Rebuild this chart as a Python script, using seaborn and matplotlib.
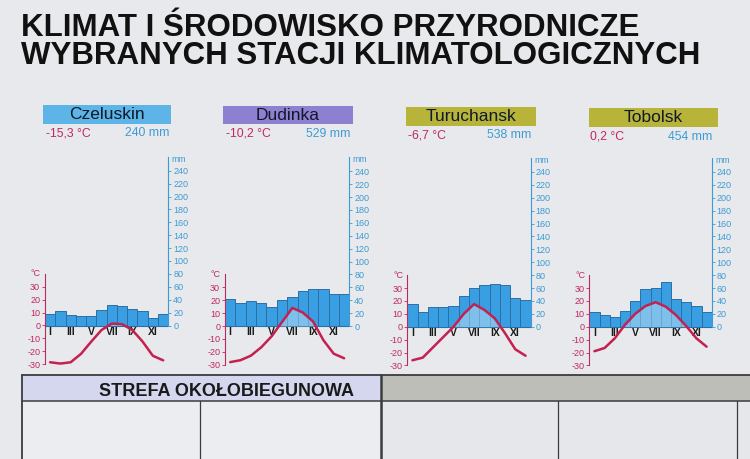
import numpy as np
import pandas as pd
import matplotlib
matplotlib.use("Agg")
import matplotlib.pyplot as plt
import seaborn as sns
from matplotlib.patches import Rectangle
from matplotlib.lines import Line2D

# ---------------- data ----------------
months = ["I", "II", "III", "IV", "V", "VI", "VII", "VIII", "IX", "X", "XI", "XII"]
stations = ["Czeluskin", "Dudinka", "Turuchansk", "Tobolsk"]
mean_temp_labels = ["-15,3 °C", "-10,2 °C", "-6,7 °C", "0,2 °C"]
total_prec_labels = ["240 mm", "529 mm", "538 mm", "454 mm"]

czeluskin_temp = [-28.5, -29.5, -28.5, -22, -12.5, -3.5, 1.5, 1, -3.5, -12.5, -23.5, -27]
czeluskin_prec = [18, 23, 17, 15, 15, 24, 32, 31, 26, 22, 12, 18]
dudinka_temp = [-28, -26.5, -23, -16.5, -8, 3, 14, 10.5, 3.5, -11, -21.5, -25]
dudinka_prec = [42, 36, 38, 35, 30, 40, 45, 55, 58, 57, 49, 50]
turuchansk_temp = [-26, -24, -16, -8, 0, 10, 17.5, 13, 6.5, -5, -17.5, -22.5]
turuchansk_prec = [35, 23, 30, 30, 32, 48, 60, 65, 66, 64, 45, 42]
tobolsk_temp = [-19, -16.5, -9, 1.5, 10, 16, 19, 15.5, 9, 0.5, -9, -15.5]
tobolsk_prec = [23, 18, 15, 25, 40, 59, 60, 70, 43, 39, 32, 23]

temps = [czeluskin_temp, dudinka_temp, turuchansk_temp, tobolsk_temp]
precs = [czeluskin_prec, dudinka_prec, turuchansk_prec, tobolsk_prec]

prec_ticks = list(range(0, 241, 20))
temp_ticks = [-30, -20, -10, 0, 10, 20, 30]
month_label_idx = [0, 2, 4, 6, 8, 10]

title_line1 = "KLIMAT I ŚRODOWISKO PRZYRODNICZE"
title_line2 = "WYBRANYCH STACJI KLIMATOLOGICZNYCH"
zone_label = "STREFA OKOŁOBIEGUNOWA"

# ---------------- style ----------------
sns.set_theme(style="white")
plt.rcParams["font.family"] = ["Liberation Sans", "DejaVu Sans"]
plt.rcParams["axes.unicode_minus"] = False

W, H = 750, 459
BG = "#E8E9EC"
BAR = "#3A9FE2"
EDGE = "#2A6FA6"
RED = "#C42050"
TRED = "#C0285C"
BLUE = "#3D9BD3"
BOX_COLORS = ["#5DB4E6", "#8E80D0", "#B8B43A", "#B8B43A"]

# pixel layout of each diagram: left axis x, right axis x, y of zero line
layout = [
    (45.0, 168.3, 325.5),
    (225.0, 349.3, 326.0),
    (407.3, 530.7, 326.7),
    (589.3, 711.7, 326.7),
]
box_px = [(42.7, 170.7, 105.0, 123.5),
          (223.0, 352.7, 105.7, 124.3),
          (406.0, 536.0, 107.0, 125.5),
          (589.0, 718.0, 108.0, 127.0)]

MM_LO, MM_HI = -62, 266
PXMM = 0.645

fig = plt.figure(figsize=(W / 100, H / 100), dpi=100, facecolor=BG)


def fx(px):
    return px / W


def fy(py):
    return 1 - py / H


# title
fig.text(fx(21), fy(36), title_line1, fontsize=22.5, fontweight="bold",
         color="#111111", va="baseline", ha="left")
fig.text(fx(21), fy(64.5), title_line2, fontsize=22.5, fontweight="bold",
         color="#111111", va="baseline", ha="left")

for k in range(4):
    L, R, y0 = layout[k]
    top = y0 - MM_HI * PXMM
    bot = y0 - MM_LO * PXMM
    ax = fig.add_axes([fx(L), fy(bot), (R - L) / W, (bot - top) / H])
    ax.patch.set_alpha(0)
    df = pd.DataFrame({"month": months, "prec": precs[k], "temp": temps[k]})
    sns.barplot(data=df, x="month", y="prec", ax=ax, color=BAR, saturation=1,
                edgecolor=EDGE, linewidth=0.7, width=1.0, errorbar=None)
    ax.set_xlim(-0.5, 11.5)
    ax.set_ylim(MM_LO, MM_HI)
    ax.set_xlabel("")
    ax.set_ylabel("")
    ax.set_xticks([])

    ax2 = ax.twinx()
    x = np.arange(12)
    t = np.array(temps[k], dtype=float)
    ax2.fill_between(x, 0, t, where=t > 0, interpolate=True,
                     color="white", alpha=0.35, lw=0, zorder=1)
    sns.lineplot(x=x, y=t, ax=ax2, color=RED, lw=1.8, zorder=4)
    ax2.set_xlim(-0.5, 11.5)
    ax2.set_ylim(MM_LO / 2, MM_HI / 2)
    ax2.set_ylabel("")

    # precipitation axis on the right
    ax.yaxis.tick_right()
    ax.set_yticks(prec_ticks)
    ax.tick_params(axis="y", colors=BLUE, labelsize=6.5, length=2.5, width=0.6,
                   pad=1, right=True, left=False, labelright=True, labelleft=False)
    for s in ["left", "top", "bottom"]:
        ax.spines[s].set_visible(False)
    ax.spines["right"].set_visible(True)
    ax.spines["right"].set_bounds(0, 262)
    ax.spines["right"].set_color(BLUE)
    ax.spines["right"].set_linewidth(0.8)
    ax.axhline(0, color=EDGE, lw=0.8, zorder=3)
    ax.annotate("mm", xy=(1, 258), xycoords=("axes fraction", "data"),
                xytext=(2.5, 0), textcoords="offset points", ha="left",
                va="center", color=BLUE, fontsize=6.3)

    # temperature axis on the left
    ax2.yaxis.tick_left()
    ax2.set_yticks(temp_ticks)
    ax2.tick_params(axis="y", colors=TRED, labelsize=6.5, length=2.5, width=0.6,
                    pad=1, left=True, right=False, labelleft=True, labelright=False)
    for s in ["right", "top", "bottom"]:
        ax2.spines[s].set_visible(False)
    ax2.spines["left"].set_visible(True)
    ax2.spines["left"].set_bounds(-30, 40)
    ax2.spines["left"].set_color(TRED)
    ax2.spines["left"].set_linewidth(0.8)
    ax2.annotate("°C", xy=(0, 40), xycoords=("axes fraction", "data"),
                 xytext=(-3, 0), textcoords="offset points", ha="right",
                 va="center", color=TRED, fontsize=6.5)
    for i in month_label_idx:
        ax2.text(i, -1.0, months[i], ha="center", va="top", fontsize=7.5,
                 fontweight="bold", color="#1A1A1A",
                 family=["Liberation Sans Narrow", "Liberation Sans", "DejaVu Sans"])

    # name box
    bl, br, bt, bb = box_px[k]
    fig.patches.append(Rectangle((fx(bl), fy(bb)), (br - bl) / W, (bb - bt) / H,
                                 transform=fig.transFigure, color=BOX_COLORS[k],
                                 lw=0, zorder=2))
    fig.text(fx((bl + br) / 2), fy((bt + bb) / 2 + 0.5), stations[k], ha="center",
             va="center", fontsize=12.5, color="#10182A", zorder=3)
    fig.text(fx(L + 0.5), fy(bb + 9.5), mean_temp_labels[k], ha="left", va="center",
             fontsize=8.8, color=TRED)
    fig.text(fx(R + 1), fy(bb + 9.5), total_prec_labels[k], ha="right", va="center",
             fontsize=8.8, color=BLUE)

# ---------------- table at bottom ----------------
tb_top, tb_head = 375, 401
fig.patches.append(Rectangle((fx(22), fy(459)), (380 - 22) / W, (459 - tb_head) / H,
                             transform=fig.transFigure, color="#ECEDF0", lw=0, zorder=0))
fig.patches.append(Rectangle((fx(381), fy(459)), (750 - 381) / W, (459 - tb_head) / H,
                             transform=fig.transFigure, color="#E6E7EA", lw=0, zorder=0))
fig.patches.append(Rectangle((fx(22), fy(tb_head)), (381 - 22) / W, (tb_head - tb_top) / H,
                             transform=fig.transFigure, color="#D4D7EE", lw=0, zorder=1))
fig.patches.append(Rectangle((fx(381), fy(tb_head)), (750 - 381) / W, (tb_head - tb_top) / H,
                             transform=fig.transFigure, color="#BDBEB7", lw=0, zorder=1))
lc = "#3C3C40"
fig.lines.append(Line2D([fx(22), fx(750)], [fy(tb_top), fy(tb_top)], transform=fig.transFigure,
                        color=lc, lw=1.3))
fig.lines.append(Line2D([fx(22), fx(750)], [fy(tb_head), fy(tb_head)], transform=fig.transFigure,
                        color=lc, lw=1.1))
for xv, lw in [(22, 1.3), (200.5, 0.9), (381, 1.8), (558, 0.9), (737, 0.9)]:
    y_start = tb_top if xv in (22, 381) else tb_head
    fig.lines.append(Line2D([fx(xv), fx(xv)], [fy(y_start), fy(459)], transform=fig.transFigure,
                            color=lc, lw=lw))
fig.text(fx(227), fy(391.5), zone_label, ha="center", va="center", fontsize=13,
         fontweight="bold", color="#1A1A1A")

fig.savefig("out.png", dpi=100, facecolor=BG)
